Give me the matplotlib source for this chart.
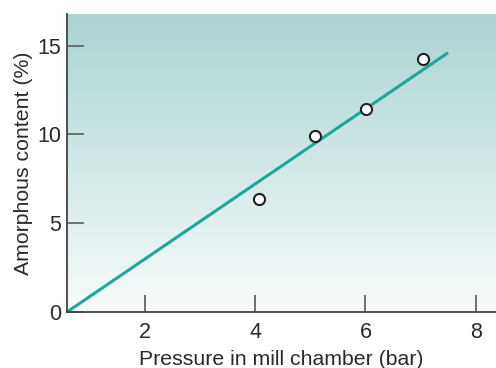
import numpy as np
import matplotlib
matplotlib.use("Agg")
import matplotlib.pyplot as plt
from matplotlib.colors import LinearSegmentedColormap

# Data
pressure = [4.06, 5.08, 6.01, 7.05]
amorphous = [6.35, 9.93, 11.45, 14.22]
fit_x = [0.58, 7.5]
fit_y = [0.0, 14.6]
xticks = [2, 4, 6, 8]
yticks = [0, 5, 10, 15]

plt.rcParams['font.family'] = ['Liberation Sans', 'DejaVu Sans']

fig = plt.figure(figsize=(4.96, 3.68), dpi=100)
ax = fig.add_axes([67/496, 1-312/368, (496-67)/496, (312-14)/368])

xlim = (0.58, 8.37)
ylim = (0, 16.78)
ax.set_xlim(*xlim)
ax.set_ylim(*ylim)

cmap = LinearSegmentedColormap.from_list('g', ['#f8fbfb', '#aad4d2'])
grad = np.linspace(0, 1, 256).reshape(-1, 1)
ax.imshow(grad, cmap=cmap, origin='lower', aspect='auto',
          extent=[xlim[0], xlim[1], ylim[0], ylim[1]], zorder=0)

ax.plot(fit_x, fit_y, color='#1ba89b', lw=2.2, zorder=2, solid_capstyle='butt')
ax.plot(pressure, amorphous, 'o', ms=8, mfc='white', mec='#222222', mew=1.5, zorder=3)

for s in ['top', 'right']:
    ax.spines[s].set_visible(False)
for s in ['left', 'bottom']:
    ax.spines[s].set_color('#444444')
    ax.spines[s].set_linewidth(1.3)

ax.set_xticks(xticks)
ax.set_yticks(yticks)
ax.tick_params(direction='in', length=12, width=1.3, color='#666666',
               labelsize=15.5, labelcolor='#2a2a2a')
ax.tick_params(axis='x', pad=7)
ax.tick_params(axis='y', pad=4)
ax.set_xlabel('Pressure in mill chamber (bar)', fontsize=15.3, color='#2a2a2a', labelpad=5)
ax.set_ylabel('Amorphous content (%)', fontsize=15.3, color='#2a2a2a', labelpad=3)

fig.savefig('out.png', dpi=100)
